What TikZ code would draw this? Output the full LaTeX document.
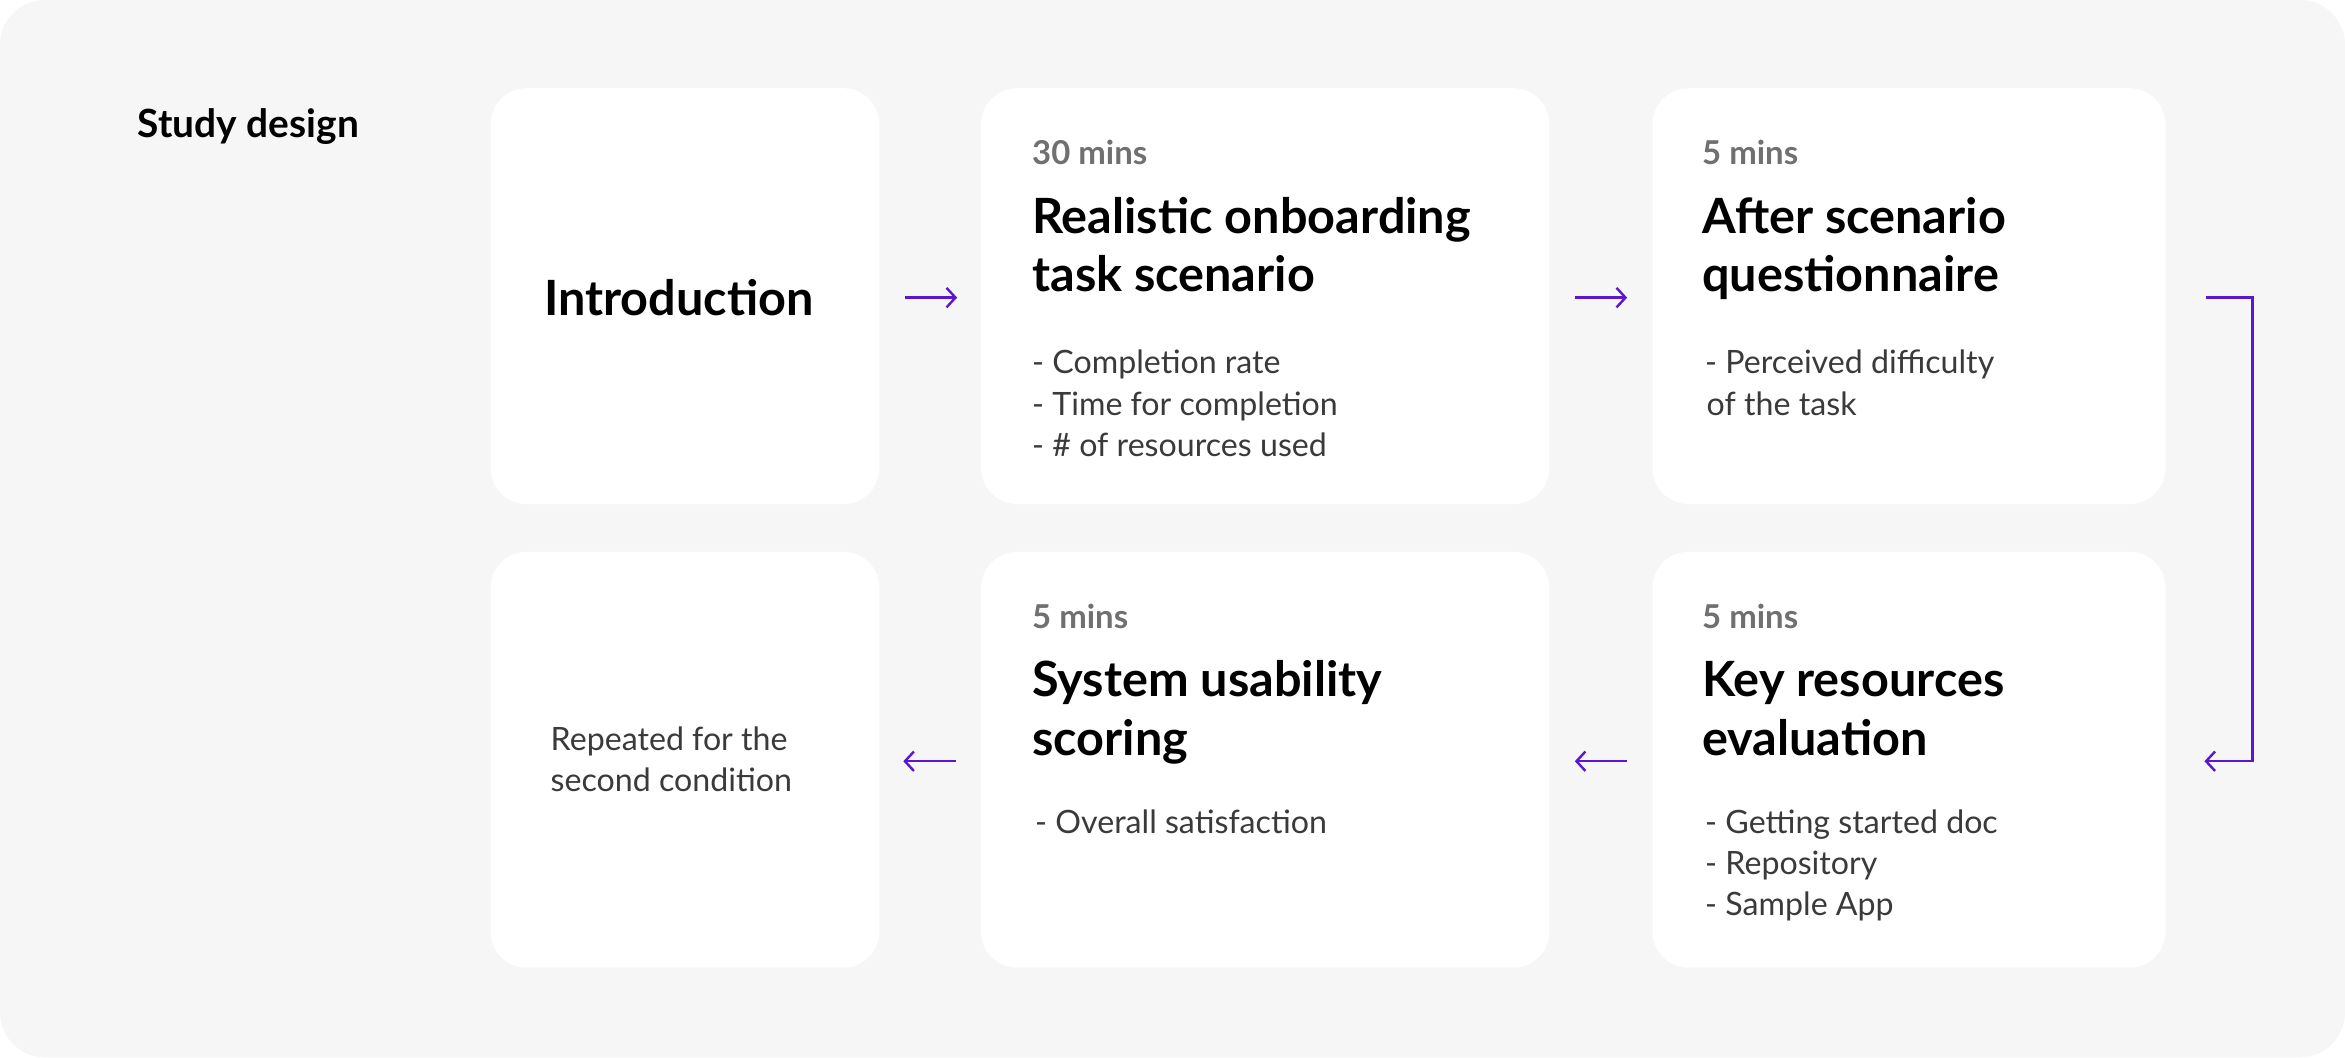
\documentclass[tikz,border=0pt]{standalone}
\usepackage{fontspec}
\setmainfont{Lato}
\usetikzlibrary{arrows.meta}
\definecolor{bg}{HTML}{F6F6F6}
\definecolor{pur}{HTML}{5B17CF}
\definecolor{mins}{HTML}{707070}
\definecolor{body}{HTML}{3A3A3A}
\tikzset{
 card/.style={fill=white,rounded corners=24pt},
 ttl/.style={anchor=base west,inner sep=0,font=\fontsize{32.5}{32.5}\selectfont\bfseries,text=black},
 tm/.style={anchor=base west,inner sep=0,font=\fontsize{22}{22}\selectfont\bfseries,text=mins},
 bd/.style={anchor=base west,inner sep=0,font=\fontsize{21.5}{21.5}\selectfont,text=body},
 arr/.style={draw=pur,line width=1.6pt,-{Straight Barb[length=6pt,width=13pt,line width=1.6pt]}}
}
\begin{document}
\begin{tikzpicture}[x=1pt,y=-1pt]
\useasboundingbox (0,0) rectangle (1568,707);
\fill[bg,rounded corners=30pt] (0,0) rectangle (1568,707);
\node[anchor=base west,inner sep=0,font=\fontsize{26}{26}\selectfont\bfseries] (sd) at (92,92) {Study design};
% cards
\fill[card] (328,59) rectangle (588,337);
\fill[card] (656,59) rectangle (1036,337);
\fill[card] (1105,59) rectangle (1448,337);
\fill[card] (328,369) rectangle (588,647);
\fill[card] (656,369) rectangle (1036,647);
\fill[card] (1105,369) rectangle (1448,647);
% intro
\node[ttl,anchor=center] (intro) at (454,199) {Introduction};
% box2
\node[tm] (m2) at (690,110) {30 mins};
\node[ttl] (t2a) at (690,156) {Realistic onboarding};
\node[ttl] (t2b) at (690,195) {task scenario};
\node[bd] (b2a) at (690,250) {- Completion rate};
\node[bd] (b2b) at (690,278) {- Time for completion};
\node[bd] (b2c) at (690,305) {- \# of resources used};
% box3
\node[tm] (m3) at (1138,110) {5 mins};
\node[ttl] (t3a) at (1138,156) {After scenario};
\node[ttl] (t3b) at (1138,195) {questionnaire};
\node[bd] (b3a) at (1140,250) {- Perceived difficulty};
\node[bd] (b3b) at (1141,278) {of the task};
% box5
\node[tm] (m5) at (690,420) {5 mins};
\node[ttl] (t5a) at (690,466) {System usability};
\node[ttl] (t5b) at (690,505) {scoring};
\node[bd] (b5a) at (692,557) {- Overall satisfaction};
% box6
\node[tm] (m6) at (1138,420) {5 mins};
\node[ttl] (t6a) at (1138,466) {Key resources};
\node[ttl] (t6b) at (1138,505) {evaluation};
\node[bd] (b6a) at (1140,557) {- Getting started doc};
\node[bd] (b6b) at (1140,585) {- Repository};
\node[bd] (b6c) at (1140,612) {- Sample App};
% box4
\node[bd] (r1) at (368,502) {Repeated for the};
\node[bd] (r2) at (368,529) {second condition};
% arrows
\coordinate (a1s) at (605,199); \coordinate (a1e) at (640,199);
\coordinate (a2s) at (1053,199); \coordinate (a2e) at (1088,199);
\coordinate (a3s) at (1475,199); \coordinate (a3m) at (1506,199);
\coordinate (a3n) at (1506,509); \coordinate (a3e) at (1474,509);
\coordinate (a4s) at (1088,509); \coordinate (a4e) at (1053,509);
\coordinate (a5s) at (639,509); \coordinate (a5e) at (604,509);
\draw[arr] (a1s) -- (a1e);
\draw[arr] (a2s) -- (a2e);
\draw[arr] (a3s) -- (a3m) -- (a3n) -- (a3e);
\draw[arr] (a4s) -- (a4e);
\draw[arr] (a5s) -- (a5e);
\end{tikzpicture}
\end{document}
